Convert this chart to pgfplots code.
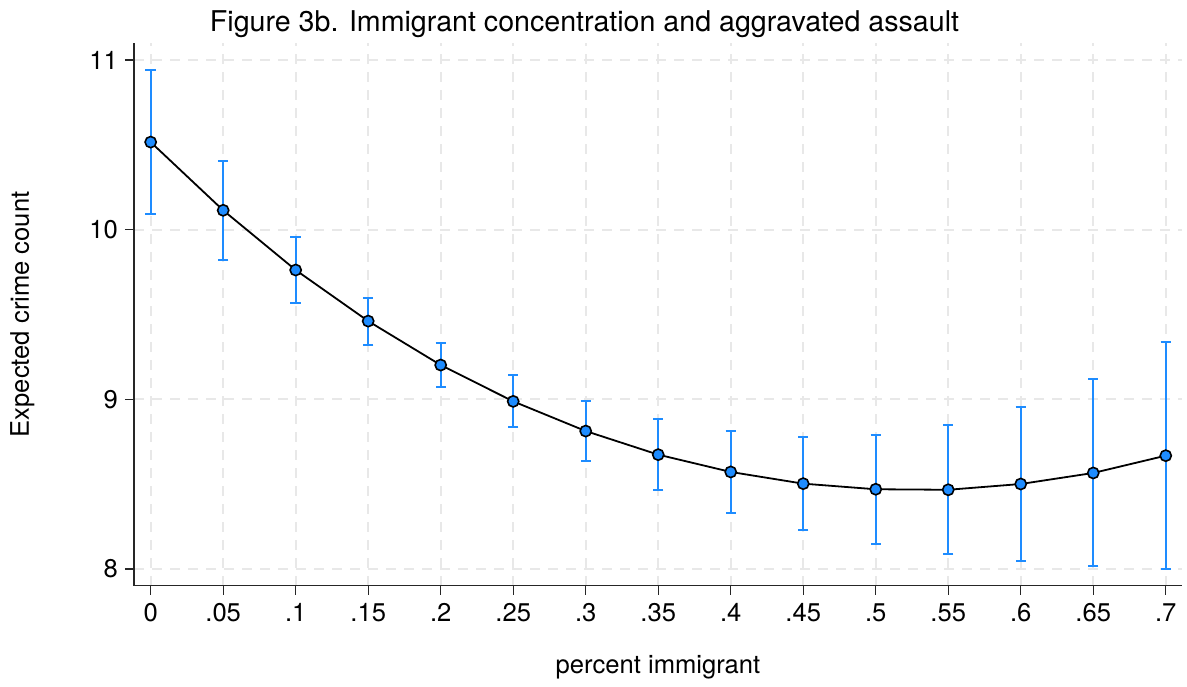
\documentclass[border=0pt]{standalone}
\usepackage{pgfplots}
\pgfplotsset{compat=1.18}
\usepackage{pgfplotstable}
\usepackage{fontspec}
\setmainfont{TeX Gyre Heros}
\definecolor{sblue}{RGB}{30,140,255}
\definecolor{gridc}{RGB}{232,232,232}
\pgfplotstableread{
x y ep em
0    10.516 0.426 0.422
0.05 10.114 0.290 0.294
0.10 9.762 0.194 0.195
0.15 9.461 0.136 0.141
0.20 9.202 0.130 0.130
0.25 8.988 0.155 0.149
0.30 8.813 0.177 0.178
0.35 8.674 0.208 0.208
0.40 8.572 0.239 0.240
0.45 8.503 0.277 0.275
0.50 8.470 0.320 0.321
0.55 8.467 0.382 0.379
0.60 8.501 0.455 0.454
0.65 8.566 0.552 0.550
0.70 8.668 0.668 0.670
}\data
\begin{document}
\begin{tikzpicture}
\useasboundingbox (-67pt,-50.15pt) rectangle (526.5pt,292.85pt);
\begin{axis}[
  scale only axis,
  width=524pt, height=271.35pt,
  xmin=-0.0115, xmax=0.7112,
  ymin=7.9016, ymax=11.1,
  axis lines=left,
  axis line style={-, line width=0.7pt, color=black!85},
  xtick={0,0.05,0.1,0.15,0.2,0.25,0.3,0.35,0.4,0.45,0.5,0.55,0.6,0.65,0.7},
  xticklabels={0,.05,.1,.15,.2,.25,.3,.35,.4,.45,.5,.55,.6,.65,.7},
  ytick={8,9,10,11},
  /pgf/number format/assume math mode=true,
  tick align=outside,
  major tick length=4.5pt,
  tick style={line width=0.6pt, color=black!85},
  tick label style={font=\fontsize{12.8pt}{15pt}\selectfont},
  xticklabel style={anchor=base, yshift=-13.5pt},
  yticklabel style={anchor=east},
  grid=major,
  major grid style={line width=1pt, color=gridc, dash pattern=on 5pt off 4pt},
  clip=false,
]
\addplot[black, line width=0.9pt, mark=*, mark size=2.8pt,
  mark options={fill=sblue, draw=black, line width=0.8pt},
  error bars/.cd, y dir=both, y explicit,
  error bar style={draw=sblue, line width=1pt, solid},
  error mark options={draw=sblue, line width=1pt, mark size=2.6pt, solid, rotate=90}]
  table[x=x, y=y, y error plus=ep, y error minus=em] {\data};
\node[anchor=base, font=\fontsize{14.3pt}{17pt}\selectfont] at (rel axis cs:0.4299,1) [yshift=5.5pt] {Figure 3b. Immigrant concentration and aggravated assault};
\node[anchor=base, font=\fontsize{12.8pt}{15pt}\selectfont] at (rel axis cs:0.5,0) [yshift=-43.65pt] {percent immigrant};
\node[anchor=base, rotate=90, font=\fontsize{12.8pt}{15pt}\selectfont] at ([xshift=-52.5pt]rel axis cs:0,0.5) {Expected crime count};
\end{axis}
\end{tikzpicture}
\end{document}
